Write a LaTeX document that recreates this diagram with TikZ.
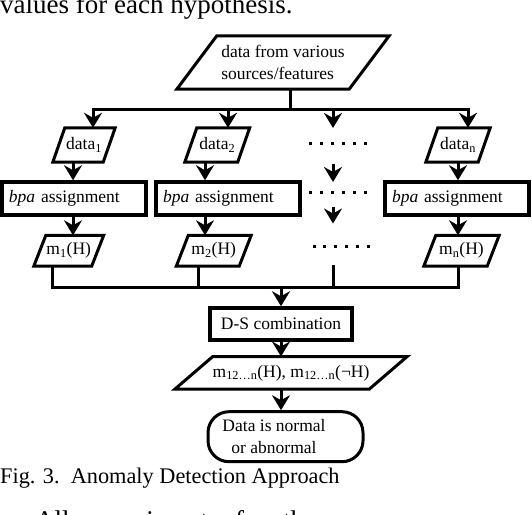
\documentclass[tikz,border=0pt]{standalone}
\usepackage{fontspec}
\setmainfont{Liberation Serif}
\usetikzlibrary{arrows.meta,calc}
\newcommand\drawpara[2]{\draw[line width=3pt,line join=miter] ([xshift=#2]#1.north west) -- (#1.north east) -- ([xshift=-#2]#1.south east) -- (#1.south west) -- cycle;}
\begin{document}
\begin{tikzpicture}[x=1pt,y=-1pt,
  conn/.style={line width=3pt,line cap=rect},
  arr/.style={line width=3pt,-{Stealth[length=15pt,width=18pt,inset=5pt]}},
  box/.style={draw,line width=3.5pt,inner sep=0pt,font=\fontsize{17.5}{22}\selectfont},
  para/.style={inner sep=0pt,font=\fontsize{17.5}{22}\selectfont},
  txt/.style={inner sep=0pt,font=\fontsize{17.5}{22}\selectfont},
  big/.style={inner sep=0pt,font=\fontsize{22.3}{26}\selectfont},
  body/.style={inner sep=0pt,font=\fontsize{27}{32}\selectfont}]
\clip (0,0) rectangle (532,514);
% surrounding text
\node[body,anchor=base west] (prev) at (0,13) {values for each hypothesis.};
\node[big,anchor=base west] (cap) at (0,483) {Fig. 3.\ \ Anomaly Detection Approach};
\node[body,anchor=base west] (next) at (35,529) {\makebox[281pt][s]{All experiments for the}};
% nodes
\node[para,minimum width=212pt,minimum height=53pt,align=left] (src) at (283,62.5) {data from various\\sources/features};
\node[para,minimum width=62pt,minimum height=34pt] (d1) at (84,145) {data\textsubscript{1}};
\node[para,minimum width=64.5pt,minimum height=34pt] (d2) at (217.25,145) {data\textsubscript{2}};
\node[para,minimum width=64pt,minimum height=34pt] (dn) at (458,145) {data\textsubscript{n}};
\node[box,minimum width=144pt,minimum height=33pt,text width=130pt,align=left] (b1) at (74,198.5) {\textit{bpa} assignment};
\node[box,minimum width=144pt,minimum height=33pt,text width=130pt,align=left] (b2) at (228,198.5) {\textit{bpa} assignment};
\node[box,minimum width=144pt,minimum height=33pt,text width=130pt,align=left] (bn) at (457,198.5) {\textit{bpa} assignment};
\node[para,minimum width=69.5pt,minimum height=30.5pt] (m1) at (68.75,250.75) {m\textsubscript{1}(H)};
\node[para,minimum width=74.5pt,minimum height=30.5pt] (m2) at (213.75,250.75) {m\textsubscript{2}(H)};
\node[para,minimum width=75pt,minimum height=30.5pt] (mn) at (461.5,250.75) {m\textsubscript{n}(H)};
\node[box,minimum width=142pt,minimum height=32pt] (ds) at (281,324) {D-S combination};
\node[para,minimum width=232pt,minimum height=32.3pt] (mc) at (291,372.85) {m\textsubscript{12…n}(H), m\textsubscript{12…n}(¬H)};
\node[draw,line width=3pt,rounded corners=21pt,minimum width=155pt,minimum height=50pt,inner sep=0pt] (term) at (285.5,436.7) {};
\node[txt,align=center] (termtext) at (274,437) {Data is normal\\or abnormal};
% parallelogram outlines
\drawpara{src}{40}
\drawpara{d1}{12}
\drawpara{d2}{12}
\drawpara{dn}{12}
\drawpara{m1}{12}
\drawpara{m2}{12}
\drawpara{mn}{12}
\drawpara{mc}{38}
% top bus
\coordinate (bm) at (290,109);
\coordinate (c1) at (93,109);
\coordinate (c2) at (228,109);
\coordinate (c3) at (333,109);
\coordinate (c4) at (468,109);
\coordinate (c3e) at (333,128);
\draw[conn] (src.south -| bm) -- (bm);
\draw[conn] (c1) -- (c4);
\draw[arr] (c1) -- (c1 |- d1.north);
\draw[arr] (c2) -- (c2 |- d2.north);
\draw[arr] (c3) -- (c3e);
\draw[arr] (c4) -- (c4 |- dn.north);
% columns
\coordinate (x1) at (73,0);
\coordinate (x2) at (205,0);
\coordinate (xn) at (458,0);
\draw[arr] (x1 |- d1.south) -- (x1 |- b1.north);
\draw[arr] (x2 |- d2.south) -- (x2 |- b2.north);
\draw[arr] (xn |- dn.south) -- (xn |- bn.north);
\draw[arr] (x1 |- b1.south) -- (x1 |- m1.north);
\draw[arr] (x2 |- b2.south) -- (x2 |- m2.north);
\draw[arr] (xn |- bn.south) -- (xn |- mn.north);
% dots column
\coordinate (da1s) at (333,164);
\coordinate (da1e) at (333,182);
\coordinate (da2s) at (333,206.6);
\coordinate (da2e) at (333,223.5);
\draw[arr] (da1s) -- (da1e);
\draw[arr] (da2s) -- (da2e);
\foreach \r/\xa in {143/310.6, 192/310.6, 246.6/314}
  \foreach \i in {0,...,5}
    \fill (\xa+\i*10.9-1.5, \r-1.5) rectangle ++(3,3);
% bottom bus
\coordinate (y1) at (52.6,287);
\coordinate (y2) at (198,287);
\coordinate (y3) at (333,287);
\coordinate (y4) at (458,287);
\coordinate (y5) at (281,287);
\coordinate (dv) at (333,266);
\draw[conn] (y1 |- m1.south) -- (y1);
\draw[conn] (y2 |- m2.south) -- (y2);
\draw[conn] (dv) -- (y3);
\draw[conn] (y4 |- mn.south) -- (y4);
\draw[conn] (y1) -- (y4);
\draw[arr] (y5) -- (ds.north);
\draw[arr] (ds.south) -- (ds.south |- mc.north);
\draw[arr] (ds.south |- mc.south) -- (ds.south |- term.north);
\end{tikzpicture}
\end{document}
